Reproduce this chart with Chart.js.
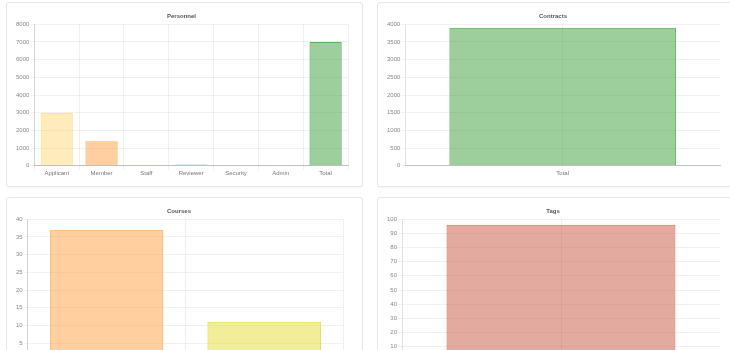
<!DOCTYPE html>
<html>
<head>
<meta charset="utf-8">
<script src="https://cdn.jsdelivr.net/npm/chart.js@4.4.1/dist/chart.umd.min.js"></script>
<style>
  body { margin: 0; background: #fff; width: 730px; height: 350px; overflow: hidden; position: relative; }
  .card { position: absolute; border: 1px solid #e6e6e6; border-radius: 3px; background: #fff; box-shadow: 0 1px 2px rgba(0,0,0,0.04); }
  .card canvas { position: absolute; left: 8px; top: 6px; }
</style>
</head>
<body>
<div class="card" style="left:6px;top:2px;width:355px;height:183px"><canvas id="personnel"></canvas></div>
<div class="card" style="left:377px;top:2px;width:370px;height:183px"><canvas id="contracts"></canvas></div>
<div class="card" style="left:6px;top:197px;width:355px;height:183px"><canvas id="courses"></canvas></div>
<div class="card" style="left:377px;top:197px;width:370px;height:183px"><canvas id="tags"></canvas></div>
<script>
// personnel counts
const personnelLabels = ['Applicant', 'Member', 'Staff', 'Reviewer', 'Security', 'Admin', 'Total'];
const personnelValues = [2980, 1380, 60, 70, 0, 50, 7000];
const personnelFill = ['rgba(255,205,86,0.4)', 'rgba(255,159,64,0.5)', 'rgba(230,220,50,0.5)', 'rgba(54,162,235,0.5)', 'rgba(153,102,255,0.5)', 'rgba(255,99,132,0.4)', 'rgba(60,160,60,0.5)'];
const personnelBorder = ['rgba(255,205,86,0.6)', 'rgba(255,159,64,0.8)', 'rgba(220,210,40,0.8)', 'rgba(54,162,235,0.8)', 'rgba(153,102,255,0.8)', 'rgba(255,99,132,0.6)', 'rgba(70,170,70,0.9)'];

const contractLabels = ['Total'];
const contractValues = [3900];

const courseLabels = ['Active', 'Archived'];
const courseValues = [37, 11];

const tagLabels = ['Total'];
const tagValues = [96];

function makeChart(id, padRight, title, labels, values, fill, border, max, step, gridOffset){
  const cv = document.getElementById(id);
  cv.width = 340; cv.height = 168;
  cv.style.width = '340px'; cv.style.height = '168px';
  return new Chart(cv, {
    type: 'bar',
    data: {
      labels: labels,
      datasets: [{
        data: values,
        backgroundColor: fill,
        borderColor: border,
        borderWidth: 1
      }]
    },
    options: {
      responsive: false,
      animation: false,
      maintainAspectRatio: false,
      layout: { padding: { left: 0, right: padRight, top: 0, bottom: 0 } },
      plugins: {
        legend: { display: false },
        tooltip: { enabled: false },
        title: {
          display: true,
          text: title,
          color: '#555',
          font: { family: 'Liberation Sans', size: 6, weight: 'bold' },
          padding: { top: 4, bottom: 4 }
        }
      },
      scales: {
        x: {
          grid: { offset: gridOffset, color: 'rgba(0,0,0,0.06)', tickLength: 4 },
          border: { color: 'rgba(0,0,0,0.2)' },
          ticks: { color: '#777', font: { family: 'Liberation Sans', size: 6 }, padding: 0, maxRotation: 0 }
        },
        y: {
          min: 0,
          max: max,
          grid: { color: 'rgba(0,0,0,0.06)', tickLength: 4 },
          border: { color: 'rgba(0,0,0,0.12)' },
          ticks: { stepSize: step, color: '#888', font: { family: 'Liberation Sans', size: 6 }, padding: 1,
                   callback: v => String(v) }
        }
      }
    }
  });
}

makeChart('personnel', 7, 'Personnel', personnelLabels, personnelValues, personnelFill, personnelBorder, 8000, 1000, true);
makeChart('contracts', 6, 'Contracts', contractLabels, contractValues, ['rgba(60,160,60,0.5)'], ['rgba(70,170,70,0.9)'], 4000, 500, false);
makeChart('courses', 12, 'Courses', courseLabels, courseValues, ['rgba(255,159,64,0.5)', 'rgba(230,220,50,0.5)'], ['rgba(255,159,64,0.8)', 'rgba(220,210,40,0.8)'], 40, 5, true);
makeChart('tags', 6, 'Tags', tagLabels, tagValues, ['rgba(200,85,65,0.5)'], ['rgba(210,90,80,0.8)'], 100, 10, false);
</script>
</body>
</html>
